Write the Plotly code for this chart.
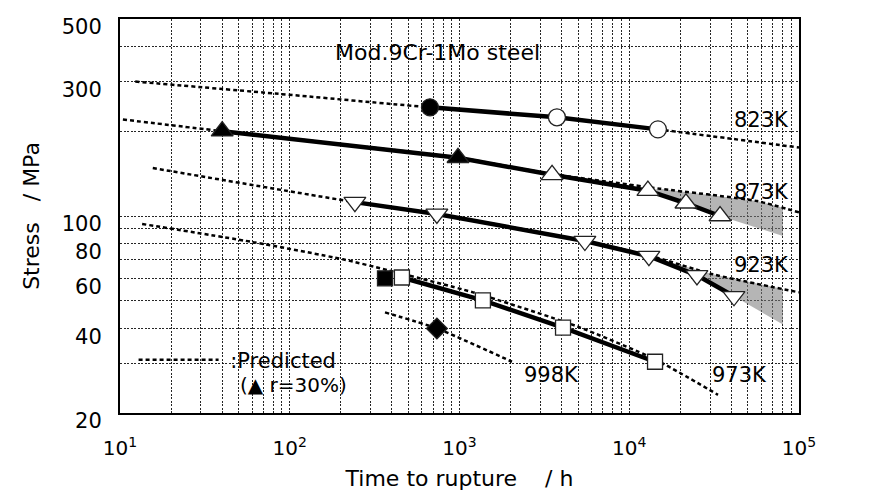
import plotly.graph_objects as go

# ---------------- data ----------------
# 823 K
t823_fill = [670]
s823_fill = [243]
t823_open = [3750, 14760]
s823_open = [224, 203]
t823_solid = [670, 3750, 14760]
s823_solid = [243, 224, 203]
t823_pred = [12.3, 82, 670, 3750, 14760, 100000]
s823_pred = [300, 272, 243, 224, 203, 175]

# 873 K
t873_fill = [40, 980]
s873_fill = [200, 161]
t873_open = [3510, 12880, 21580, 34270]
s873_open = [140, 123, 111, 100]
t873_solid = [40, 980, 3510, 12880, 21580, 34270]
s873_solid = [200, 161, 140, 123, 111, 100]
t873_pred = [10.4, 40, 980, 3510, 15170, 56600, 100000]
s873_pred = [220, 200, 161, 141, 125, 113, 103]
t873_band = [12880, 21580, 34270, 80500, 80500, 56600, 15170, 12880]
s873_band = [123, 111, 100, 85, 107, 113, 125, 123]

# 923 K
t923_open = [242, 736, 5480, 13060, 25060, 41400]
s923_open = [112, 101.7, 81.5, 72, 61.6, 51.9]
t923_pred = [15.6, 242, 736, 5480, 13060, 31100, 100000]
s923_pred = [148, 112, 101.7, 81.5, 72.5, 62.1, 53.6]
t923_band = [13060, 25060, 41400, 80500, 80500, 31100, 13060]
s923_band = [72, 61.6, 51.9, 41.2, 55.1, 62.1, 72]

# 973 K
t973_fill = [364]
s973_fill = [60.1]
t973_open = [458, 1374, 4074, 14190]
s973_open = [60.5, 50.2, 40.2, 30.4]
t973_pred = [13.5, 60.7, 206, 379, 1202, 4920, 14190, 33340]
s973_pred = [93.7, 80.8, 70.2, 64.2, 53.6, 40.6, 31, 23.2]

# 998 K
t998_fill = [736]
s998_fill = [39.9]
t998_pred = [364, 736, 2037]
s998_pred = [45.5, 39.9, 30.4]

x_major = [10, 100, 1000, 10000, 100000]
x_major_text = ["10<sup>1</sup>", "10<sup>2</sup>", "10<sup>3</sup>", "10<sup>4</sup>", "10<sup>5</sup>"]
x_minor = [m * d for d in [10, 100, 1000, 10000] for m in range(2, 10)]
y_major = [20, 40, 60, 80, 100, 300, 500]
y_minor = [30, 50, 70, 90, 200, 400]

temp_labels = ["823K", "873K", "923K", "973K", "998K"]

# ---------------- figure ----------------
FONT = "DejaVu Sans"
DASH = "4px,3px"
fig = go.Figure()

# shaded bands
for tb, sb in [(t873_band, s873_band), (t923_band, s923_band)]:
    fig.add_trace(go.Scatter(x=tb, y=sb, mode="lines", fill="toself",
                             fillcolor="rgba(120,120,120,0.55)", line=dict(width=0),
                             hoverinfo="skip", showlegend=False))

# predicted dashed lines
preds = [(t823_pred, s823_pred), (t873_pred, s873_pred), (t923_pred, s923_pred),
         (t973_pred, s973_pred), (t998_pred, s998_pred)]
for i, (tp, sp) in enumerate(preds):
    fig.add_trace(go.Scatter(x=tp, y=sp, mode="lines", line_shape="spline",
                             line=dict(color="black", width=2.5, dash=DASH, smoothing=0.6),
                             name="\u00a0:Predicted", showlegend=(i == 0)))

# experimental solid lines
for ts, ss in [(t823_solid, s823_solid), (t873_solid, s873_solid),
               (t923_open, s923_open), (t973_open, s973_open)]:
    fig.add_trace(go.Scatter(x=ts, y=ss, mode="lines",
                             line=dict(color="black", width=4.5), showlegend=False))

def markers(x, y, symbol, filled, size):
    fig.add_trace(go.Scatter(
        x=x, y=y, mode="markers", showlegend=False,
        marker=dict(symbol=symbol, size=size,
                    color="black" if filled else "white",
                    line=dict(color="#222", width=1.3))))

markers(t823_fill, s823_fill, "circle", True, 17)
markers(t823_open, s823_open, "circle", False, 17)
markers(t873_fill, s873_fill, "triangle-up", True, 19)
markers(t873_open, s873_open, "triangle-up", False, 19)
markers(t923_open, s923_open, "triangle-down", False, 19)
markers(t973_fill, s973_fill, "square", True, 15)
markers(t973_open, s973_open, "square", False, 15)
markers(t998_fill, s998_fill, "diamond", True, 16)

# text annotations (paper coords)
ann = [
    ("Mod.9Cr-1Mo steel", 0.3137, 0.916, 22),
    (temp_labels[0], 0.901, 0.744, 21),
    (temp_labels[1], 0.901, 0.561, 21),
    (temp_labels[2], 0.901, 0.376, 21),
    (temp_labels[3], 0.869, 0.0964, 21),
    (temp_labels[4], 0.592, 0.0964, 21),
    ("(\u25B2 r=30%)", 0.1738, 0.071, 20),
]
for txt, ax_, ay_, fs in ann:
    fig.add_annotation(text=txt, x=ax_, y=ay_, xref="paper", yref="paper",
                       xanchor="left", yanchor="middle", showarrow=False,
                       font=dict(family=FONT, size=fs, color="black"))

grid = dict(showgrid=True, gridcolor="rgba(0,0,0,0.85)", gridwidth=1, griddash="2px,1.5px")

fig.update_xaxes(type="log", range=[1, 5.0001], automargin=False,
                 tickvals=x_major, ticktext=x_major_text, ticks="",
                 showline=True, mirror=True, linecolor="black", linewidth=2,
                 tickfont=dict(family=FONT, size=20, color="black"),
                 ticklabelstandoff=16,
                 minor=dict(tickvals=x_minor, ticks="", **grid),
                 title=dict(text="Time to rupture\u00a0\u00a0\u00a0\u00a0/ h",
                            font=dict(family=FONT, size=22, color="black"), standoff=12),
                 zeroline=False, **grid)
fig.update_yaxes(type="log", range=[1.3010, 2.6991], automargin=False,
                 tickvals=y_major, ticktext=[str(v) for v in y_major], ticks="",
                 showline=True, mirror=True, linecolor="black", linewidth=2,
                 tickfont=dict(family=FONT, size=21, color="black"),
                 ticklabelstandoff=12, ticklabelshift=8,
                 minor=dict(tickvals=y_minor, ticks="", **grid),
                 title=dict(text="Stress\u00a0\u00a0\u00a0/ MPa\u00a0\u00a0\u00a0",
                            font=dict(family=FONT, size=22, color="black"), standoff=16),
                 zeroline=False, **grid)

fig.update_layout(
    width=881, height=495,
    margin=dict(l=120, r=82, t=19, b=82, autoexpand=False),
    paper_bgcolor="white", plot_bgcolor="white",
    showlegend=True,
    legend=dict(x=0.02, y=0.1345, xanchor="left", yanchor="middle",
                bgcolor="rgba(0,0,0,0)", borderwidth=0, itemwidth=80,
                font=dict(family=FONT, size=21, color="black")),
)

fig.write_html("out.html")
